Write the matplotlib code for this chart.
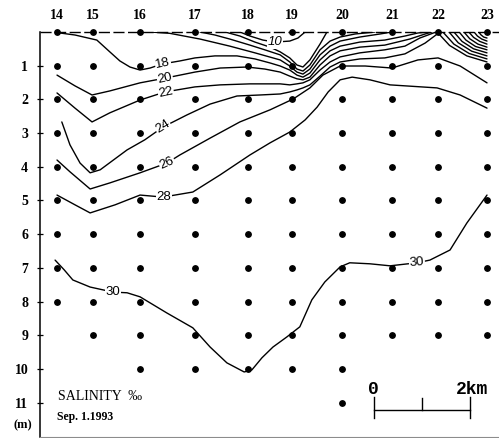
import matplotlib.pyplot as plt

# stations along the section, distance from St.14 (km) and deepest sample (m)
stations = [14, 15, 16, 17, 18, 19, 20, 21, 22, 23]
station_km = [0.0, 0.75, 1.73, 2.88, 3.98, 4.90, 5.94, 6.98, 7.94, 8.96]
max_depth = [8, 9, 10, 10, 10, 10, 11, 9, 9, 9]

# isohalines: distance (km), depth (m)
iso10_x = [3.81, 4.02, 4.29, 4.54, 4.85, 5.02, 5.17]
iso10_d = [0, 0.12, 0.24, 0.30, 0.27, 0.18, 0]

iso12_x = [3.50, 3.81, 4.125, 4.44, 4.65, 4.85, 5.0, 5.125, 5.27, 5.48, 5.625]
iso12_d = [0, 0.12, 0.30, 0.45, 0.59, 0.77, 0.98, 1.04, 0.83, 0.36, 0]

iso14_x = [2.98, 3.29, 3.60, 4.02, 4.33, 4.65, 4.85, 5.0, 5.125, 5.27, 5.48, 5.69, 5.90, 6.21, 6.625]
iso14_d = [0, 0.09, 0.21, 0.39, 0.53, 0.68, 0.89, 1.10, 1.16, 0.98, 0.53, 0.27, 0.15, 0.06, 0]

iso16_x = [1.94, 2.35, 2.98, 3.60, 4.125, 4.65, 4.85, 5.0, 5.125, 5.27, 5.48, 5.69, 5.90, 6.31, 6.73, 6.98]
iso16_d = [0, 0.04, 0.21, 0.42, 0.62, 0.83, 1.01, 1.19, 1.25, 1.10, 0.68, 0.42, 0.27, 0.15, 0.06, 0]

iso18_x = [0.06, 0.375, 0.83, 1.10, 1.31, 1.52, 1.73, 1.94, 2.19, 2.56, 2.875, 3.29, 3.75, 4.125,
           4.44, 4.65, 4.85, 5.0, 5.125, 5.27, 5.48, 5.69, 5.90, 6.31, 6.83, 7.25, 7.52, 7.73]
iso18_d = [0.03, 0.09, 0.24, 0.59, 0.86, 1.04, 1.13, 1.07, 0.95, 0.86, 0.77, 0.71, 0.71, 0.80,
           0.92, 1.01, 1.13, 1.28, 1.34, 1.22, 0.83, 0.56, 0.42, 0.30, 0.24, 0.12, 0.03, 0]

iso20_x = [0, 0.375, 0.73, 1.10, 1.73, 2.25, 2.875, 3.40, 3.96, 4.33, 4.65, 4.85, 5.0, 5.125,
           5.27, 5.48, 5.69, 5.90, 6.31, 6.83, 7.35, 7.67, 7.81]
iso20_d = [1.28, 1.60, 1.87, 1.75, 1.51, 1.37, 1.19, 1.07, 1.04, 1.10, 1.19, 1.31, 1.39, 1.42,
           1.34, 0.98, 0.71, 0.56, 0.45, 0.39, 0.21, 0.06, 0]

iso22_x = [0, 0.375, 0.73, 1.10, 1.73, 2.25, 2.875, 3.40, 4.02, 4.65, 4.85, 5.0, 5.125, 5.27,
           5.48, 5.69, 5.90, 6.31, 6.83, 7.25, 7.56, 7.90]
iso22_d = [1.81, 2.26, 2.67, 2.40, 2.02, 1.78, 1.63, 1.57, 1.54, 1.54, 1.57, 1.54, 1.51, 1.42,
           1.13, 0.89, 0.74, 0.62, 0.53, 0.42, 0.18, 0]

iso24_x = [0.10, 0.27, 0.48, 0.69, 0.90, 1.46, 1.83, 2.21, 2.71, 3.19, 3.75, 4.23, 4.65, 4.85,
           5.0, 5.125, 5.27, 5.48, 5.69, 5.90, 6.31, 6.83, 7.25, 7.67, 7.98]
iso24_d = [2.67, 3.35, 3.89, 4.18, 4.09, 3.50, 3.20, 2.82, 2.46, 2.14, 1.90, 1.87, 1.84, 1.78,
           1.72, 1.66, 1.57, 1.31, 1.04, 0.89, 0.80, 0.77, 0.65, 0.33, 0]

iso26_x = [0, 0.27, 0.69, 1.10, 1.73, 2.29, 2.56, 3.19, 3.81, 4.44, 4.92, 5.27, 5.54, 5.90,
           6.42, 6.98, 7.52, 7.94, 8.40, 8.96]
iso26_d = [3.80, 4.15, 4.66, 4.48, 4.18, 3.89, 3.65, 3.15, 2.67, 2.31, 1.99, 1.66, 1.28, 1.01,
           1.01, 1.07, 0.83, 0.77, 1.01, 1.51]

iso28_x = [0, 0.375, 0.69, 1.21, 1.73, 2.21, 2.83, 3.40, 4.02, 4.44, 4.85, 5.17, 5.42, 5.65,
           5.90, 6.15, 6.52, 6.94, 7.92, 8.40, 8.96]
iso28_d = [4.84, 5.13, 5.37, 5.13, 4.84, 4.90, 4.75, 4.24, 3.65, 3.29, 2.97, 2.61, 2.23, 1.78,
           1.42, 1.34, 1.42, 1.57, 1.66, 1.87, 2.26]

iso30_x = [-0.04, 0.15, 0.33, 0.69, 1.17, 1.46, 1.73, 2.29, 2.83, 3.19, 3.54, 3.90, 4.06, 4.27,
           4.50, 4.79, 5.06, 5.31, 5.58, 5.90, 6.10, 6.52, 6.94, 7.50, 7.77, 8.19, 8.54, 8.96]
iso30_d = [6.77, 7.06, 7.36, 7.57, 7.72, 7.74, 7.86, 8.34, 8.78, 9.35, 9.82, 10.09, 10.03, 9.67,
           9.35, 9.05, 8.75, 7.95, 7.42, 6.97, 6.85, 6.88, 6.94, 6.85, 6.77, 6.47, 5.67, 4.84]

# low-salinity lens at St.23 surface (fan of isohalines from St.22)
fan_x = [[7.92, 8.18, 8.54, 8.96], [8.04, 8.27, 8.59, 8.96], [8.17, 8.36, 8.64, 8.96],
         [8.27, 8.44, 8.68, 8.96], [8.38, 8.52, 8.72, 8.96], [8.48, 8.60, 8.77, 8.96],
         [8.58, 8.68, 8.81, 8.96], [8.69, 8.76, 8.85, 8.96], [8.79, 8.83, 8.89, 8.96]]
fan_d = [[0, 0.40, 0.71, 0.89], [0, 0.36, 0.64, 0.80], [0, 0.32, 0.57, 0.71],
         [0, 0.28, 0.50, 0.62], [0, 0.24, 0.43, 0.53], [0, 0.20, 0.36, 0.45],
         [0, 0.16, 0.28, 0.36], [0, 0.12, 0.21, 0.27], [0, 0.08, 0.15, 0.18]]

# contour labels: text, km, depth, rotation
label_txt = ['10', '18', '20', '22', '24', '26', '28', '30', '30']
label_x = [4.54, 2.21, 2.25, 2.27, 2.21, 2.29, 2.23, 1.17, 7.50]
label_d = [0.30, 0.95, 1.39, 1.81, 2.82, 3.89, 4.90, 7.72, 6.85]
label_rot = [0, 12, 12, 12, 32, 24, 0, 0, 4]

fig = plt.figure(figsize=(4.99, 4.38), dpi=100)
ax = fig.add_axes([0.0802, 0.0023, 0.9198, 0.9247])
ax.set_xlim(-0.354, 9.21)
ax.set_ylim(12.02, 0)

lines = [(iso10_x, iso10_d), (iso12_x, iso12_d), (iso14_x, iso14_d), (iso16_x, iso16_d),
         (iso18_x, iso18_d), (iso20_x, iso20_d), (iso22_x, iso22_d), (iso24_x, iso24_d),
         (iso26_x, iso26_d), (iso28_x, iso28_d), (iso30_x, iso30_d)]
lines += list(zip(fan_x, fan_d))
for xs, ds in lines:
    ax.plot(xs, ds, color='black', lw=1.0, solid_capstyle='round', solid_joinstyle='round', zorder=2)

for t, x, d, r in zip(label_txt, label_x, label_d, label_rot):
    ax.text(x, d, t, ha='center', va='center', rotation=r, fontsize=9.5,
            family='Liberation Sans', fontstyle='italic' if t == '10' else 'normal',
            bbox=dict(boxstyle='square,pad=0.05', fc='white', ec='none'), zorder=3)

# sea surface
ax.plot([-0.354, 9.21], [0, 0], color='black', lw=1.0, ls=(0, (8, 2.5)), clip_on=False, zorder=2)

# sampling points
for km, dmax in zip(station_km, max_depth):
    ds = list(range(0, dmax + 1))
    ax.plot([km] * len(ds), ds, 'o', color='black', ms=3.9, clip_on=False, zorder=4)

ax.xaxis.tick_top()
ax.set_xticks(station_km)
ax.set_xticklabels([str(s) for s in stations])
ax.tick_params(axis='x', length=0, pad=7, labelsize=10)
ax.set_yticks(range(1, 12))
ax.tick_params(axis='y', direction='inout', length=5, width=0.9, pad=6, labelsize=10)
for lab in ax.get_xticklabels() + ax.get_yticklabels():
    lab.set_family('Liberation Serif')
    lab.set_fontweight('bold')

ax.spines['top'].set_visible(False)
ax.spines['right'].set_visible(False)
ax.spines['left'].set_linewidth(1.1)
ax.spines['bottom'].set_linewidth(0.8)
ax.spines['bottom'].set_color('0.55')

ax.text(0.02, 10.83, 'SALINITY  ‰', family='Liberation Serif', fontsize=10,
        ha='left', va='center')
ax.text(0.0, 11.42, 'Sep. 1.1993', family='Liberation Serif', fontsize=8.5,
        fontweight='bold', ha='left', va='center')
ax.text(-0.52, 11.66, '(m)', family='Liberation Serif', fontsize=9, fontweight='bold',
        ha='right', va='center', clip_on=False)

# scale bar 0-2 km
ax.plot([6.6, 8.6], [11.22, 11.22], color='black', lw=1.0)
ax.plot([6.6, 6.6], [10.83, 11.45], color='black', lw=1.0)
ax.plot([8.6, 8.6], [10.83, 11.45], color='black', lw=1.0)
ax.plot([7.6, 7.6], [10.86, 11.22], color='black', lw=1.0)
ax.text(6.6, 10.62, '0', family='Liberation Mono', fontsize=13, fontweight='bold',
        ha='center', va='center')
ax.text(8.65, 10.62, '2km', family='Liberation Mono', fontsize=13, fontweight='bold',
        ha='center', va='center')

fig.savefig('out.png', dpi=100)
